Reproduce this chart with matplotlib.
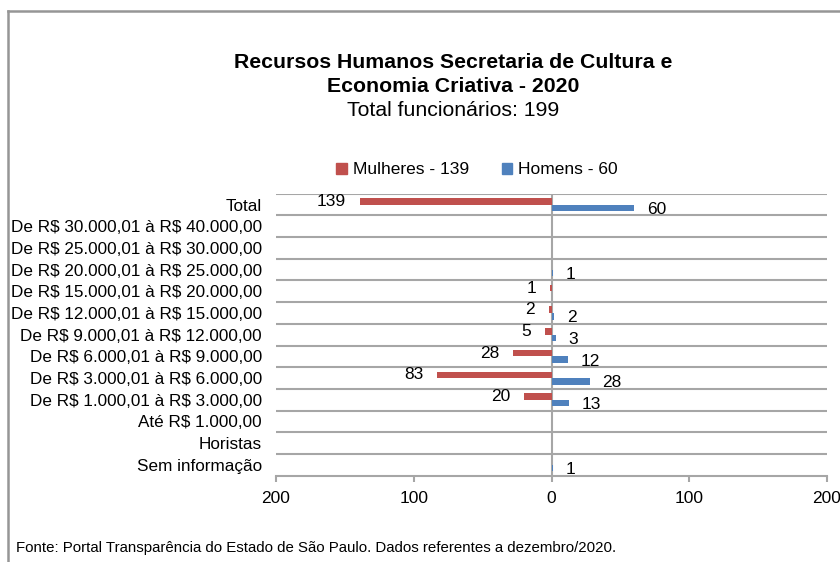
import matplotlib
matplotlib.use("Agg")
import matplotlib.pyplot as plt
from matplotlib.patches import Rectangle
from matplotlib.lines import Line2D

plt.rcParams['font.family'] = ['Liberation Sans', 'DejaVu Sans']
plt.rcParams['text.parse_math'] = False

categories = ["Total", "De R$ 30.000,01 à R$ 40.000,00", "De R$ 25.000,01 à R$ 30.000,00",
              "De R$ 20.000,01 à R$ 25.000,00", "De R$ 15.000,01 à R$ 20.000,00",
              "De R$ 12.000,01 à R$ 15.000,00", "De R$ 9.000,01 à R$ 12.000,00",
              "De R$ 6.000,01 à R$ 9.000,00", "De R$ 3.000,01 à R$ 6.000,00",
              "De R$ 1.000,01 à R$ 3.000,00", "Até R$ 1.000,00", "Horistas", "Sem informação"]
mulheres = [139, 0, 0, 0, 1, 2, 5, 28, 83, 20, 0, 0, 0]
homens = [60, 0, 0, 1, 0, 2, 3, 12, 28, 13, 0, 0, 1]
xticks = [-200, -100, 0, 100, 200]
xticklabels = ["200", "100", "0", "100", "200"]

RED = "#C0504D"
BLUE = "#4F81BD"
GRID = "#A6A6A6"
FS = 12.5

fig = plt.figure(figsize=(8.4, 5.62), dpi=100)
# outer border
fig.add_artist(Line2D([8/840, 8/840], [0, 1 - 11/562], transform=fig.transFigure, color="#969696", lw=1.8))
fig.add_artist(Line2D([8/840, 1.0], [1 - 11/562, 1 - 11/562], transform=fig.transFigure, color="#969696", lw=1.8))

ax = fig.add_axes([276/840, 1 - 475.7/562, 551/840, 282/562])
n = len(categories)
ys = list(range(n))
bh = 0.30
off = 0.15
ax.barh([y - off for y in ys], [-m for m in mulheres], height=bh, color=RED, zorder=3)
ax.barh([y + off for y in ys], homens, height=bh, color=BLUE, zorder=3)

ax.set_xlim(-200, 200)
ax.set_ylim(n - 0.5, -0.5)
for b in [i - 0.5 for i in range(n)]:
    ax.axhline(b, color=GRID, lw=1.5, zorder=1)
ax.axvline(0, color=GRID, lw=1.5, zorder=2)

for y, m in zip(ys, mulheres):
    if m:
        ax.annotate(str(m), (-m, y - off), xytext=(-10, 0), textcoords="offset points",
                    ha="right", va="center", fontsize=FS)
for y, h in zip(ys, homens):
    if h:
        ax.annotate(str(h), (h, y + off), xytext=(9, -1), textcoords="offset points",
                    ha="left", va="center", fontsize=FS)

ax.set_yticks(ys)
ax.set_yticklabels(categories, fontsize=12.3)
ax.set_xticks(xticks)
ax.set_xticklabels(xticklabels, fontsize=FS)
ax.tick_params(axis="y", length=0, pad=10)
ax.tick_params(axis="x", direction="out", length=4, color=GRID, width=1.5, pad=7)
for s in ["top", "right", "left"]:
    ax.spines[s].set_visible(False)
ax.spines["bottom"].set_color(GRID)
ax.spines["bottom"].set_linewidth(1.5)

fig.text(453/840, 1 - 63/562, "Recursos Humanos Secretaria de Cultura e", ha="center", va="center",
         fontsize=15.3, fontweight="bold")
fig.text(453/840, 1 - 87/562, "Economia Criativa - 2020", ha="center", va="center",
         fontsize=15.3, fontweight="bold")
fig.text(453/840, 1 - 111/562, "Total funcionários: 199", ha="center", va="center", fontsize=15.3)

handles = [Rectangle((0, 0), 1, 1, color=RED), Rectangle((0, 0), 1, 1, color=BLUE)]
fig.legend(handles, ["Mulheres - 139", "Homens - 60"], loc="center", bbox_to_anchor=(477/840, 1 - 170/562),
           ncol=2, frameon=False, fontsize=FS, handlelength=0.6, handleheight=0.6, handletextpad=0.35,
           columnspacing=1.9)

fig.text(16/840, 1 - 548/562, "Fonte: Portal Transparência do Estado de São Paulo. Dados referentes a dezembro/2020.",
         ha="left", va="center", fontsize=10.8)

fig.savefig("out.png", dpi=100, facecolor="white")
